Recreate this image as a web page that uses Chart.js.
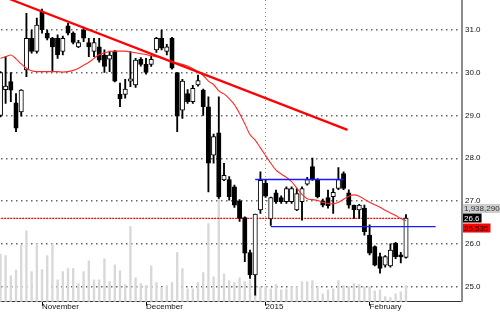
<!DOCTYPE html>
<html>
<head>
<meta charset="utf-8">
<script src="https://cdn.jsdelivr.net/npm/chart.js@4.4.1/dist/chart.umd.min.js"></script>
<style>
  body { margin: 0; background: #fff; }
  #wrap { width: 500px; height: 312px; position: relative; }
</style>
</head>
<body>
<div id="wrap"><canvas id="c"></canvas></div>
<script>
// daily candles, Oct 2014 - Feb 2015
const open = [29.00, 29.60, 29.79, 29.29, 29.08, 30.06, 30.80, 30.49, 31.42, 30.92,
  30.80, 30.80, 30.49, 31.09, 30.92, 30.60, 30.99, 30.70, 30.49, 30.60,
  30.41, 30.31, 30.50, 29.49, 29.49, 29.80, 29.71, 30.31, 30.19, 30.19,
  30.53, 30.80, 30.49, 30.80, 30.00, 29.12, 29.51, 29.32, 29.71, 29.59,
  29.20, 28.07, 28.59, 27.49, 27.50, 27.33, 27.00, 26.61, 25.79, 25.27,
  26.79, 27.41, 26.58, 27.19, 27.08, 26.98, 26.98, 26.79, 26.98, 27.39,
  27.80, 27.50, 27.00, 27.08, 27.10, 27.29, 27.64, 27.19, 26.90, 26.79,
  26.83, 26.20, 25.93, 25.70, 25.50, 25.48, 26.01, 25.74, 25.68];
const high = [30.02, 30.37, 30.00, 29.51, 29.60, 31.38, 30.99, 31.27, 31.48, 30.99,
  30.82, 30.88, 30.85, 31.15, 30.95, 30.75, 31.06, 30.80, 30.80, 30.80,
  30.53, 30.50, 30.52, 29.75, 29.84, 30.49, 30.33, 30.35, 30.33, 30.39,
  30.82, 30.99, 30.66, 30.82, 30.00, 29.84, 29.60, 29.70, 29.94, 29.61,
  29.43, 28.56, 29.43, 27.88, 27.57, 27.37, 27.03, 26.63, 25.85, 26.69,
  27.68, 27.50, 27.09, 27.25, 27.12, 27.33, 27.33, 27.29, 27.33, 27.55,
  28.00, 27.52, 27.04, 27.25, 27.29, 27.78, 27.68, 27.26, 26.90, 26.92,
  26.90, 26.44, 25.95, 25.78, 25.72, 26.00, 26.03, 25.80, 26.68];
const low = [28.96, 29.28, 29.32, 28.62, 28.98, 29.90, 30.45, 30.45, 30.92, 30.76,
  30.02, 30.33, 30.41, 30.88, 30.67, 30.58, 30.72, 30.37, 30.37, 30.24,
  30.00, 30.02, 29.78, 29.20, 29.40, 29.67, 29.65, 30.15, 29.96, 30.14,
  30.47, 30.53, 30.41, 30.08, 28.62, 28.93, 29.28, 29.28, 29.68, 29.00,
  27.21, 27.88, 27.06, 27.47, 27.02, 26.85, 26.52, 25.58, 25.19, 24.80,
  26.71, 27.08, 26.43, 26.94, 26.94, 26.94, 26.94, 26.77, 26.55, 27.37,
  27.48, 27.07, 26.86, 26.83, 26.71, 27.26, 27.26, 26.83, 26.59, 26.59,
  26.20, 25.74, 25.48, 25.31, 25.45, 25.45, 25.65, 25.55, 25.66];
const close = [30.00, 29.68, 29.59, 28.70, 29.59, 30.80, 30.49, 31.11, 31.00, 30.80,
  30.60, 30.41, 30.80, 30.92, 30.70, 30.70, 30.80, 30.60, 30.70, 30.29,
  30.14, 30.41, 29.80, 29.38, 29.61, 29.85, 30.29, 30.19, 30.00, 30.31,
  30.80, 30.57, 30.60, 30.10, 28.98, 29.80, 29.32, 29.63, 29.81, 29.20,
  27.88, 28.50, 27.10, 27.60, 27.10, 26.90, 26.59, 25.78, 25.27, 26.69,
  27.48, 27.11, 27.08, 26.98, 26.98, 27.29, 27.29, 27.17, 27.29, 27.50,
  27.50, 27.10, 26.90, 26.89, 27.20, 27.50, 27.29, 26.90, 26.79, 26.90,
  26.28, 25.78, 25.50, 25.42, 25.70, 25.85, 25.70, 25.70, 26.60];
// volume, millions of shares
const volume = [5.69, 5.49, 3.10, 3.78, 6.80, 8.47, 3.58, 6.92, 3.82, 5.49,
  6.92, 2.62, 3.58, 3.94, 3.94, 2.15, 3.58, 4.89, 2.62, 2.62,
  5.13, 2.39, 4.41, 3.70, 2.03, 8.95, 2.86, 2.15, 1.91, 4.29,
  2.27, 1.67, 1.91, 2.27, 5.85, 3.94, 1.55, 1.55, 2.27, 3.46,
  9.31, 2.98, 12.65, 3.34, 2.51, 2.27, 2.86, 2.39, 2.62, 7.16,
  1.79, 1.79, 1.55, 2.03, 1.43, 1.55, 1.79, 1.79, 2.39, 2.39,
  2.51, 1.79, 0.95, 1.43, 1.55, 2.51, 1.91, 1.79, 2.15, 2.03,
  1.79, 1.79, 1.31, 1.43, 0.60, 0.48, 0.95, 1.19, 1.93829];
// moving average
const ma = [30.33, 30.37, 30.41, 30.32, 30.20, 30.10, 30.04, 30.02, 30.02, 30.02,
  30.02, 30.02, 30.01, 30.02, 30.05, 30.10, 30.17, 30.24, 30.33, 30.42,
  30.46, 30.49, 30.50, 30.50, 30.50, 30.48, 30.46, 30.44, 30.42, 30.39,
  30.37, 30.35, 30.30, 30.26, 30.22, 30.19, 30.15, 30.09, 30.02, 29.93,
  29.80, 29.72, 29.57, 29.50, 29.39, 29.25, 29.04, 28.80, 28.55, 28.42,
  28.24, 28.06, 27.88, 27.72, 27.63, 27.55, 27.45, 27.30, 27.15, 27.05,
  27.03, 27.01, 26.97, 26.94, 26.93, 26.97, 27.04, 27.11, 27.14, 27.11,
  27.04, 26.97, 26.91, 26.85, 26.78, 26.72, 26.66, 26.59, 26.535];

const monthIdx = [8, 28, 51, 71];
const monthNames = ['November', 'December', '2015', 'February'];
const priceTicks = [25, 26, 27, 28, 29, 30, 31];

// drawn lines: [startIndex, endIndex] and [startPrice, endPrice]
const trendX = [0, 66.75];
const trendY = [31.80, 28.66];
const resistX = [49, 66];
const resistY = [27.5, 27.5];
const supportX = [52, 83.7];
const supportY = [26.4, 26.4];
const lastX = [-1, 78];
const lastY = [26.59, 26.59];

const idx = close.map((c, i) => i);
const pts = (xs, ys) => xs.map((x, i) => ({ x: x, y: ys[i] }));

// dotted price grid
const dotGrid = {
  id: 'dotGrid',
  beforeDatasetsDraw(chart) {
    const { ctx, chartArea } = chart;
    const y = chart.scales.y;
    ctx.save();
    ctx.fillStyle = '#666666';
    priceTicks.forEach(v => {
      const py = Math.floor(y.getPixelForValue(v));
      for (let px = chartArea.left + 1; px < chartArea.right - 1; px += 5) {
        ctx.fillRect(px, py, 1.5, 1.5);
      }
    });
    ctx.restore();
  }
};

const priceTags = {
  id: 'priceTags',
  afterDraw(chart) {
    const ctx = chart.ctx;
    const left = chart.chartArea.right;
    const n = close.length - 1;
    const cy = chart.scales.y.getPixelForValue(close[n]);
    const tag = (text, y, bg, fg, w) => {
      ctx.save();
      ctx.font = '8px "Liberation Sans", Arial, sans-serif';
      const tw = w || ctx.measureText(text).width + 3;
      ctx.fillStyle = bg;
      ctx.fillRect(left + 1, y - 4.5, tw, 9);
      ctx.fillStyle = fg;
      ctx.textBaseline = 'middle';
      ctx.fillText(text, left + 2, y + 0.5);
      ctx.restore();
    };
    tag(Math.round(volume[n] * 1e6).toLocaleString('en-US'), cy - 9.5, '#cfcfcf', '#333', 40);
    tag(close[n].toFixed(1), cy, '#000', '#fff');
    tag(ma[n].toFixed(3), cy + 10, '#ff0000', '#000');
  }
};

const noPad = s => { s.paddingTop = 0; s.paddingBottom = 0; s.paddingLeft = 0; s.paddingRight = 0; };

new Chart(document.getElementById('c'), {
  type: 'bar',
  data: {
    datasets: [
      {
        type: 'line', label: 'trend', data: pts(trendX, trendY),
        borderColor: '#ff0000', borderWidth: 2.2, pointRadius: 0, order: 1
      },
      {
        type: 'line', label: 'resistance', data: pts(resistX, resistY),
        borderColor: '#1a1aff', borderWidth: 1.3, pointRadius: 0, order: 2
      },
      {
        type: 'line', label: 'support', data: pts(supportX, supportY),
        borderColor: '#1a1aff', borderWidth: 1.3, pointRadius: 0, order: 2
      },
      {
        type: 'line', label: 'MA', data: pts(idx, ma),
        borderColor: '#ff2a2a', borderWidth: 1.1, pointRadius: 0,
        cubicInterpolationMode: 'monotone', order: 3
      },
      {
        label: 'body', data: idx.map(i => ({ x: i, y: [open[i], close[i]] })),
        backgroundColor: idx.map(i => close[i] >= open[i] ? '#ffffff' : '#000000'),
        borderColor: '#000', borderWidth: 1, borderSkipped: false,
        barThickness: 4.4, minBarLength: 1.5, grouped: false, order: 4
      },
      {
        label: 'wick', data: idx.map(i => ({ x: i, y: [low[i], high[i]] })),
        backgroundColor: '#000', barThickness: 1.2, grouped: false, order: 5
      },
      {
        type: 'line', label: 'last', data: pts(lastX, lastY),
        borderColor: '#ff0000', borderWidth: 1.3, borderDash: [2, 1], pointRadius: 0, order: 6
      },
      {
        label: 'volume', yAxisID: 'yv', data: idx.map(i => ({ x: i, y: volume[i] })),
        backgroundColor: '#d8d8d8', barThickness: 1.7, grouped: false, order: 9
      }
    ]
  },
  options: {
    responsive: true,
    maintainAspectRatio: false,
    animation: false,
    layout: { padding: 0 },
    plugins: { legend: { display: false }, tooltip: { enabled: false } },
    scales: {
      x: {
        type: 'linear', position: 'bottom', min: -0.08, max: 88.77, offset: false,
        afterBuildTicks: s => { s.ticks = monthIdx.map(v => ({ value: v })); },
        afterFit: s => { s.height = 10.3; noPad(s); },
        grid: {
          offset: false, drawTicks: true, tickLength: 4, tickColor: '#000', tickWidth: 1,
          color: c => (c.tick && c.tick.value === 51) ? '#8a8a8a' : 'rgba(0,0,0,0)'
        },
        border: { display: true, color: '#333', width: 1, dash: [1, 3] },
        ticks: {
          autoSkip: false, maxRotation: 0, align: 'start', padding: -4,
          color: '#111', font: { family: '"Liberation Sans", Arial, sans-serif', size: 8 },
          callback: v => monthNames[monthIdx.indexOf(v)]
        }
      },
      y: {
        position: 'right', min: 24.645, max: 31.694,
        afterBuildTicks: s => { s.ticks = priceTicks.map(v => ({ value: v })); },
        afterFit: s => { s.width = 38; noPad(s); },
        grid: { display: false, drawTicks: false },
        border: { display: true, color: '#8c8c8c', width: 2 },
        ticks: {
          padding: 3, color: '#111',
          font: { family: '"Liberation Sans", Arial, sans-serif', size: 8 },
          callback: v => Number(v).toFixed(1)
        }
      },
      yv: { display: false, min: 0, max: 36, afterFit: noPad }
    }
  },
  plugins: [dotGrid, priceTags]
});
</script>
</body>
</html>
